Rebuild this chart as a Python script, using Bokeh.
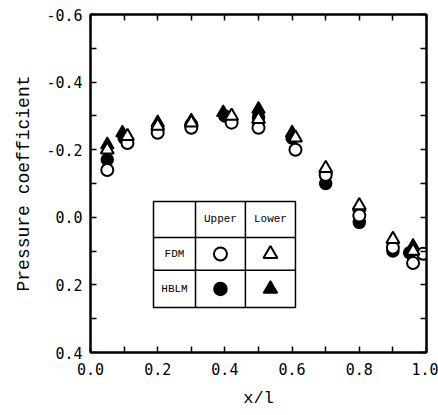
from bokeh.plotting import figure
from bokeh.models import Range1d, LinearAxis, FixedTicker
from bokeh.core.properties import value
from bokeh.embed import file_html
from bokeh.resources import INLINE

# Pressure coefficient distributions along the chord (y axis reversed: suction up)
fdm_upper_x = [0.05, 0.11, 0.20, 0.30, 0.42, 0.50, 0.61, 0.70, 0.80, 0.90, 0.96, 0.99]
fdm_upper_cp = [-0.14, -0.22, -0.25, -0.265, -0.28, -0.265, -0.20, -0.125, -0.005, 0.09, 0.135, 0.108]

fdm_lower_x = [0.05, 0.11, 0.20, 0.30, 0.42, 0.50, 0.61, 0.70, 0.80, 0.90, 0.96]
fdm_lower_cp = [-0.20, -0.24, -0.27, -0.28, -0.30, -0.29, -0.235, -0.145, -0.035, 0.065, 0.10]

hblm_upper_x = [0.05, 0.10, 0.20, 0.30, 0.40, 0.50, 0.60, 0.70, 0.80, 0.90, 0.95]
hblm_upper_cp = [-0.17, -0.235, -0.265, -0.275, -0.30, -0.295, -0.235, -0.10, 0.015, 0.10, 0.105]

hblm_lower_x = [0.05, 0.095, 0.20, 0.30, 0.395, 0.50, 0.60, 0.70, 0.80, 0.90, 0.96]
hblm_lower_cp = [-0.215, -0.25, -0.28, -0.285, -0.31, -0.32, -0.25, -0.14, -0.03, 0.065, 0.085]

x_ticks = [0.0, 0.2, 0.4, 0.6, 0.8, 1.0]
x_tick_labels = ["0.0", "0.2", "0.4", "0.6", "0.8", "1.0"]
y_ticks = [-0.6, -0.4, -0.2, 0.0, 0.2, 0.4]
y_tick_labels = ["-0.6", "-0.4", "-0.2", "0.0", "0.2", "0.4"]

col_heads = ["Upper", "Lower"]
row_heads = ["FDM", "HBLM"]

TICK_FONT = "DejaVu Sans Mono"
LABEL_FONT = "Liberation Mono"

p = figure(frame_width=336, frame_height=338,
           x_range=Range1d(0.0, 1.0), y_range=Range1d(0.4, -0.6),
           min_border_left=90, min_border_right=12,
           min_border_top=14, min_border_bottom=63,
           output_backend="svg", toolbar_location=None)
p.xgrid.visible = False
p.ygrid.visible = False
p.outline_line_color = "black"
p.outline_line_width = 2
p.background_fill_color = "white"
p.border_fill_color = "white"


def style_axis(ax, ticks, labels, show_labels=True):
    minor = [round(t + 0.1, 2) for t in ticks[:-1]]
    ax.ticker = FixedTicker(ticks=ticks, minor_ticks=minor)
    ax.axis_line_color = "black"
    ax.axis_line_width = 2
    ax.major_tick_line_width = 1.5
    ax.minor_tick_line_width = 1.5
    ax.major_tick_in = 6
    ax.major_tick_out = 0
    ax.minor_tick_in = 6
    ax.minor_tick_out = 0
    ax.major_label_text_font = TICK_FONT
    ax.major_label_text_font_size = "15px"
    ax.major_label_text_color = "black"
    if show_labels:
        ax.major_label_overrides = {t: l for t, l in zip(ticks, labels)}
        ax.major_label_standoff = 10
    else:
        ax.major_label_overrides = {t: "" for t in ticks}
        ax.major_label_standoff = 0


style_axis(p.xaxis[0], x_ticks, x_tick_labels)
style_axis(p.yaxis[0], y_ticks, y_tick_labels)
p.yaxis[0].major_label_standoff = 8
p.xaxis[0].axis_label = "x/l"
p.yaxis[0].axis_label = "Pressure coefficient"
for ax, st in ((p.xaxis[0], 11), (p.yaxis[0], 9)):
    ax.axis_label_text_font = LABEL_FONT
    ax.axis_label_text_font_size = "17px"
    ax.axis_label_text_font_style = "normal"
    ax.axis_label_text_color = "black"
    ax.axis_label_standoff = st
p.yaxis[0].axis_label_text_font_size = "18px"

top_axis = LinearAxis()
right_axis = LinearAxis()
style_axis(top_axis, x_ticks, x_tick_labels, show_labels=False)
style_axis(right_axis, y_ticks, y_tick_labels, show_labels=False)
p.add_layout(top_axis, "above")
p.add_layout(right_axis, "right")

# data markers: solid symbols underneath, open symbols on top
p.scatter(hblm_lower_x, hblm_lower_cp, marker="triangle", size=13,
          fill_color="black", line_color="black", line_width=1.5)
p.scatter(hblm_upper_x, hblm_upper_cp, marker="circle", size=12,
          fill_color="black", line_color="black", line_width=1.5)
p.scatter(fdm_upper_x, fdm_upper_cp, marker="circle", size=12,
          fill_color="white", line_color="black", line_width=2)
p.scatter(fdm_lower_x, fdm_lower_cp, marker="triangle", size=13,
          fill_color="white", line_color="black", line_width=2)

# key table (3 columns x 3 rows) drawn in data space
col_edges = [0.1875, 0.3125, 0.461, 0.610]
row_edges = [-0.047, 0.060, 0.157, 0.267]
p.quad(left=[col_edges[0]], right=[col_edges[-1]], top=[row_edges[0]], bottom=[row_edges[-1]],
       fill_color="white", line_color="black", line_width=1.5)
p.segment(x0=col_edges[1:-1], x1=col_edges[1:-1],
          y0=[row_edges[0]] * 2, y1=[row_edges[-1]] * 2,
          line_color="black", line_width=1.5)
p.segment(x0=[col_edges[0]] * 2, x1=[col_edges[-1]] * 2,
          y0=row_edges[1:-1], y1=row_edges[1:-1],
          line_color="black", line_width=1.5)

col_mid = [(col_edges[i] + col_edges[i + 1]) / 2 for i in range(3)]
row_mid = [(row_edges[i] + row_edges[i + 1]) / 2 for i in range(3)]

p.text(x=col_mid[1:], y=[row_mid[0]] * 2, text=col_heads,
       text_font=value(LABEL_FONT), text_font_size="11px",
       text_align="center", text_baseline="middle", text_color="black")
p.text(x=[col_mid[0]] * 2, y=row_mid[1:], text=row_heads,
       text_font=value(LABEL_FONT), text_font_size="11px",
       text_align="center", text_baseline="middle", text_color="black")

p.scatter([col_mid[1]], [row_mid[1]], marker="circle", size=13,
          fill_color="white", line_color="black", line_width=2)
p.scatter([col_mid[2]], [row_mid[1]], marker="triangle", size=14,
          fill_color="white", line_color="black", line_width=2)
p.scatter([col_mid[1]], [row_mid[2]], marker="circle", size=13,
          fill_color="black", line_color="black", line_width=1.5)
p.scatter([col_mid[2]], [row_mid[2]], marker="triangle", size=14,
          fill_color="black", line_color="black", line_width=1.5)

open("out.html", "w").write(file_html(p, INLINE))
